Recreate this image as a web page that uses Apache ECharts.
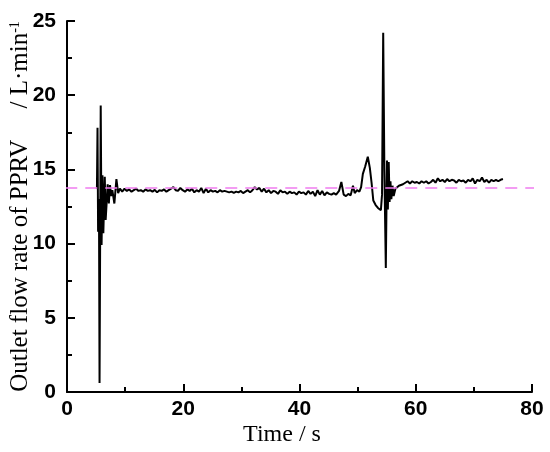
<!DOCTYPE html>
<html>
<head>
<meta charset="utf-8">
<script src="https://cdn.jsdelivr.net/npm/echarts@6/dist/echarts.min.js"></script>
<style>
	html, body { margin: 0; padding: 0; background: #fff; }
	#chart { width: 550px; height: 452px; }
</style>
</head>
<body>
<div id="chart"></div>
<script>
// start-up oscillation [time s, flow L/min]
var burst1 = [
	[5.15, 13.7], [5.25, 17.8], [5.35, 10.8], [5.5, 13.0], [5.6, 0.6], [5.8, 19.3],
	[5.95, 9.9], [6.1, 14.6], [6.25, 10.7], [6.5, 14.5], [6.65, 11.6], [6.8, 12.6],
	[7.0, 14.0], [7.2, 12.7], [7.4, 13.95], [7.6, 13.2], [7.8, 13.6], [8.15, 12.7],
	[8.5, 14.35], [8.8, 13.4], [9.1, 13.7]
];
// steady stage before the disturbance
var steady1 = [
	[9.5, 13.5], [9.9, 13.7], [10.3, 13.55], [10.7, 13.65], [11.1, 13.5], [11.5, 13.6],
	[11.9, 13.7], [12.3, 13.55], [12.7, 13.6], [13.1, 13.5], [13.5, 13.65], [13.9, 13.55],
	[14.3, 13.6], [14.7, 13.5], [15.1, 13.62], [15.5, 13.45], [15.9, 13.6], [16.3, 13.55],
	[16.7, 13.65], [17.1, 13.5], [17.5, 13.6], [17.9, 13.7], [18.3, 13.8], [18.7, 13.6],
	[19.1, 13.55], [19.5, 13.75], [19.9, 13.6], [20.3, 13.5], [20.7, 13.65], [21.1, 13.55],
	[21.5, 13.7], [21.9, 13.45], [22.3, 13.6], [22.7, 13.5], [23.1, 13.75], [23.5, 13.4],
	[23.9, 13.7], [24.3, 13.45], [24.7, 13.6], [25.1, 13.5], [25.5, 13.55], [25.9, 13.45],
	[26.3, 13.6], [26.7, 13.5], [27.1, 13.55], [27.5, 13.5], [27.9, 13.45], [28.3, 13.5],
	[28.7, 13.42], [29.1, 13.5], [29.5, 13.45], [29.9, 13.55], [30.3, 13.4], [30.7, 13.5],
	[31.1, 13.6], [31.5, 13.45], [31.9, 13.6], [32.3, 13.8], [32.7, 13.65], [33.1, 13.75],
	[33.5, 13.5], [33.9, 13.7], [34.3, 13.45], [34.7, 13.6], [35.1, 13.4], [35.5, 13.55],
	[35.9, 13.5], [36.3, 13.35], [36.7, 13.6], [37.1, 13.45], [37.5, 13.5], [37.9, 13.35],
	[38.3, 13.5], [38.7, 13.4], [39.1, 13.45], [39.5, 13.3], [39.9, 13.5], [40.3, 13.4],
	[40.7, 13.45], [41.1, 13.3], [41.5, 13.55], [41.9, 13.35], [42.3, 13.5], [42.7, 13.2],
	[43.1, 13.6], [43.5, 13.3], [43.9, 13.55], [44.3, 13.25], [44.7, 13.45], [45.1, 13.35],
	[45.5, 13.3], [45.9, 13.4], [46.3, 13.3], [46.8, 13.55], [47.2, 14.15], [47.6, 13.3],
	[48.0, 13.2], [48.4, 13.35], [48.8, 13.25], [49.2, 13.9], [49.5, 13.4], [49.9, 13.6],
	[50.3, 13.5], [50.6, 13.8]
];
// bump and second large oscillation
var burst2 = [
	[50.9, 14.7], [51.3, 15.2], [51.75, 15.85], [52.1, 15.1], [52.4, 14.1], [52.7, 12.9],
	[53.1, 12.6], [53.5, 12.4], [54.0, 12.25], [54.2, 13.3], [54.4, 24.2], [54.6, 15.0],
	[54.85, 8.35], [55.05, 15.6], [55.2, 12.3], [55.35, 15.5], [55.5, 12.8], [55.65, 14.2],
	[55.8, 13.0], [56.0, 13.9], [56.2, 13.2], [56.5, 13.7], [56.8, 13.6], [57.1, 13.9],
	[57.4, 13.8], [57.8, 14.0]
];
// steady stage after the disturbance
var steady2 = [
	[58.2, 14.1], [58.6, 14.2], [59.0, 14.05], [59.4, 14.2], [59.8, 14.1], [60.2, 14.15],
	[60.6, 14.05], [61.0, 14.2], [61.4, 14.1], [61.8, 14.2], [62.2, 14.05], [62.6, 14.15],
	[63.0, 14.3], [63.4, 14.1], [63.8, 14.4], [64.2, 14.2], [64.6, 14.3], [65.0, 14.15],
	[65.4, 14.35], [65.8, 14.2], [66.2, 14.3], [66.6, 14.25], [67.0, 14.1], [67.4, 14.3],
	[67.8, 14.2], [68.2, 14.25], [68.6, 14.1], [69.0, 14.3], [69.4, 14.2], [69.8, 14.4],
	[70.2, 14.05], [70.6, 14.3], [71.0, 14.2], [71.4, 14.45], [71.8, 14.15], [72.2, 14.3],
	[72.6, 14.1], [73.0, 14.3], [73.4, 14.2], [73.8, 14.3], [74.2, 14.2], [74.6, 14.3],
	[75.0, 14.35]
];
var refLevel = 13.75;
var refRange = [-0.3, 81.1];

var flowData = burst1.concat(steady1, burst2, steady2);

var myChart = echarts.init(document.getElementById('chart'));

var tickFont = {
	color: '#000',
	fontFamily: 'Liberation Sans, Arial',
	fontWeight: 'bold',
	fontSize: 21
};

var option = {
	animation: false,
	backgroundColor: '#fff',
	grid: {
		left: 67,
		right: 18,
		top: 21,
		bottom: 60,
		outerBoundsMode: 'none',
		containLabel: false
	},
	xAxis: {
		type: 'value',
		min: 0,
		max: 80,
		interval: 20,
		name: 'Time / s',
		nameLocation: 'middle',
		nameGap: 31,
		nameMoveOverlap: false,
		nameTextStyle: {
			color: '#000',
			fontFamily: 'Liberation Serif, Times New Roman',
			fontSize: 24,
			padding: [0, 35, 0, 0]
		},
		axisLine: { lineStyle: { color: '#000', width: 2 } },
		axisTick: { inside: true, length: 8, lineStyle: { color: '#000', width: 2 } },
		minorTick: { show: true, splitNumber: 2, length: 5, lineStyle: { color: '#000', width: 2 } },
		axisLabel: Object.assign({ margin: 7 }, tickFont),
		splitLine: { show: false }
	},
	yAxis: {
		type: 'value',
		min: 0,
		max: 25,
		interval: 5,
		name: 'Outlet flow rate of PPRV     / L·min{sup|-1}',
		nameLocation: 'middle',
		nameGap: 34,
		nameMoveOverlap: false,
		nameTextStyle: {
			color: '#000',
			fontFamily: 'Liberation Serif, Times New Roman',
			fontSize: 25,
			rich: {
				sup: {
					color: '#000',
					fontFamily: 'Liberation Serif, Times New Roman',
					fontSize: 14,
					verticalAlign: 'top',
					padding: [0, 0, 10, 0]
				}
			}
		},
		axisLine: { lineStyle: { color: '#000', width: 2 } },
		axisTick: { inside: true, length: 8, lineStyle: { color: '#000', width: 2 } },
		minorTick: { show: true, splitNumber: 2, length: 5, lineStyle: { color: '#000', width: 2 } },
		axisLabel: Object.assign({ margin: 11 }, tickFont),
		splitLine: { show: false }
	},
	series: [{
		name: 'flow',
		type: 'line',
		data: flowData,
		showSymbol: false,
		symbol: 'none',
		lineStyle: { color: '#000', width: 2 }
	}, {
		name: 'reference',
		type: 'line',
		clip: false,
		data: [[refRange[0], refLevel], [refRange[1], refLevel]],
		showSymbol: false,
		symbol: 'none',
		lineStyle: { color: '#f07cf0', width: 1.5, type: [12, 8] }
	}]
};

myChart.setOption(option);
</script>
</body>
</html>
